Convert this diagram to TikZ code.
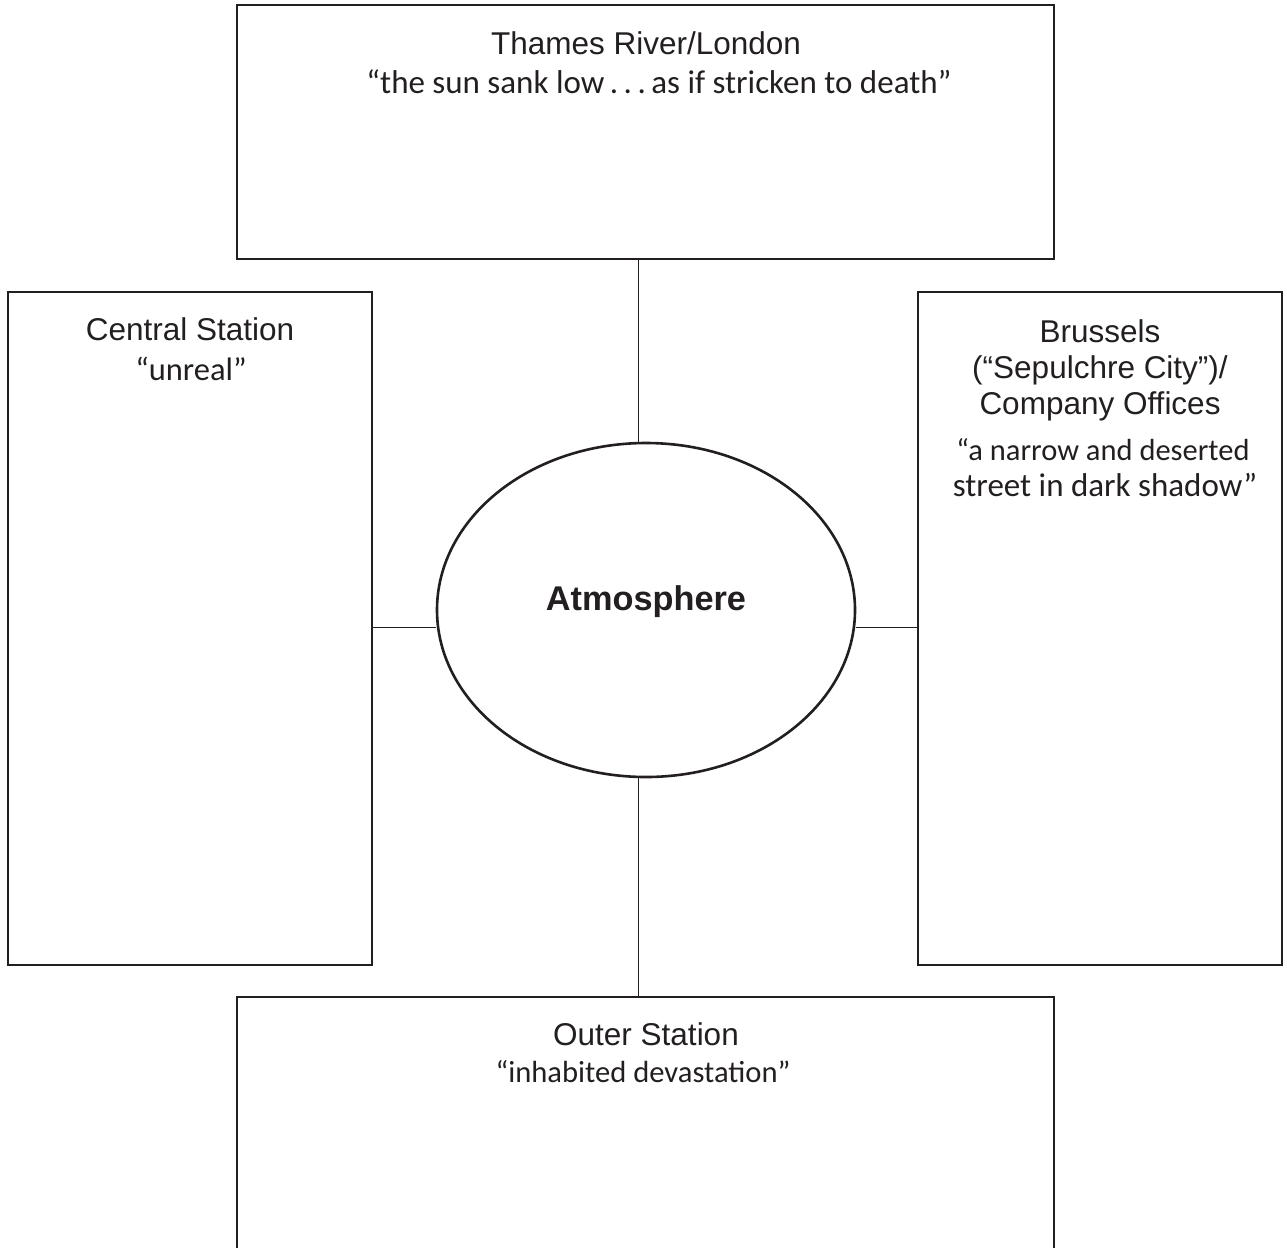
\documentclass[tikz,border=0pt]{standalone}
\usepackage{fontspec}
\setmainfont{Liberation Sans}
\newfontfamily\handfont{Carlito}
\usetikzlibrary{shapes.geometric}
\definecolor{ink}{HTML}{231F20}
\tikzset{
  boxstyle/.style={draw=ink, line width=1.4pt, rectangle, inner sep=0pt},
  head/.style={font=\fontsize{31.5}{36}\selectfont, text=ink, anchor=base, inner sep=0pt, align=center},
  quote/.style={font=\handfont\fontsize{#1}{#1}\selectfont, text=ink, anchor=base, inner sep=0pt, align=center},
  quote/.default=32,
  conn/.style={draw=ink, line width=1pt},
}
\begin{document}
\begin{tikzpicture}[x=1pt,y=-1pt]
\useasboundingbox[fill=white] (0,0) rectangle (1287,1247);
% boxes
\node[boxstyle, minimum width=817pt, minimum height=254pt] (top) at (645.5,132) {};
\node[boxstyle, minimum width=364pt, minimum height=673pt] (lbox) at (190,628.5) {};
\node[boxstyle, minimum width=364pt, minimum height=673pt] (rbox) at (1100,628.5) {};
\node[boxstyle, minimum width=817pt, minimum height=280pt] (bot) at (645.5,1137) {};
% ellipse
\node[ellipse, draw=ink, line width=2.6pt, minimum width=418pt, minimum height=334pt, inner sep=0pt] (ell) at (646,610) {};
\node[font=\bfseries\fontsize{34.3}{40}\selectfont, text=ink, anchor=base, inner sep=0pt] (atm) at (646,610) {Atmosphere};
% texts
\node[head] (t1) at (646,55) {Thames River/London};
\node[quote=33] (q1) at (659,93) {“the sun sank low\,.\,.\,.\,as if stricken to death”};
\node[head] (l1) at (190,340) {Central Station};
\node[quote=32.5] (q2) at (191,380) {“unreal”};
\node[head] (r1) at (1100,342) {Brussels};
\node[head] (r2) at (1100,378) {(“Sepulchre City”)/};
\node[head] (r3) at (1100,414) {Company Offices};
\node[quote=30.5] (q3) at (1103,460) {“a narrow and deserted};
\node[quote=33] (q4) at (1105,496) {street in dark shadow”};
\node[head] (b1) at (646,1045) {Outer Station};
\node[quote=30.6] (q5) at (643,1082) {“inhabited devastation”};
% connectors
\coordinate (vx) at (638,0);
\coordinate (hy) at (0,627);
\draw[conn] (top.south -| vx) -- (ell.north -| vx);
\draw[conn] (ell.south -| vx) -- (bot.north -| vx);
\draw[conn] (lbox.east |- hy) -- (ell.west |- hy);
\draw[conn] (ell.east |- hy) -- (rbox.west |- hy);
\end{tikzpicture}
\end{document}
